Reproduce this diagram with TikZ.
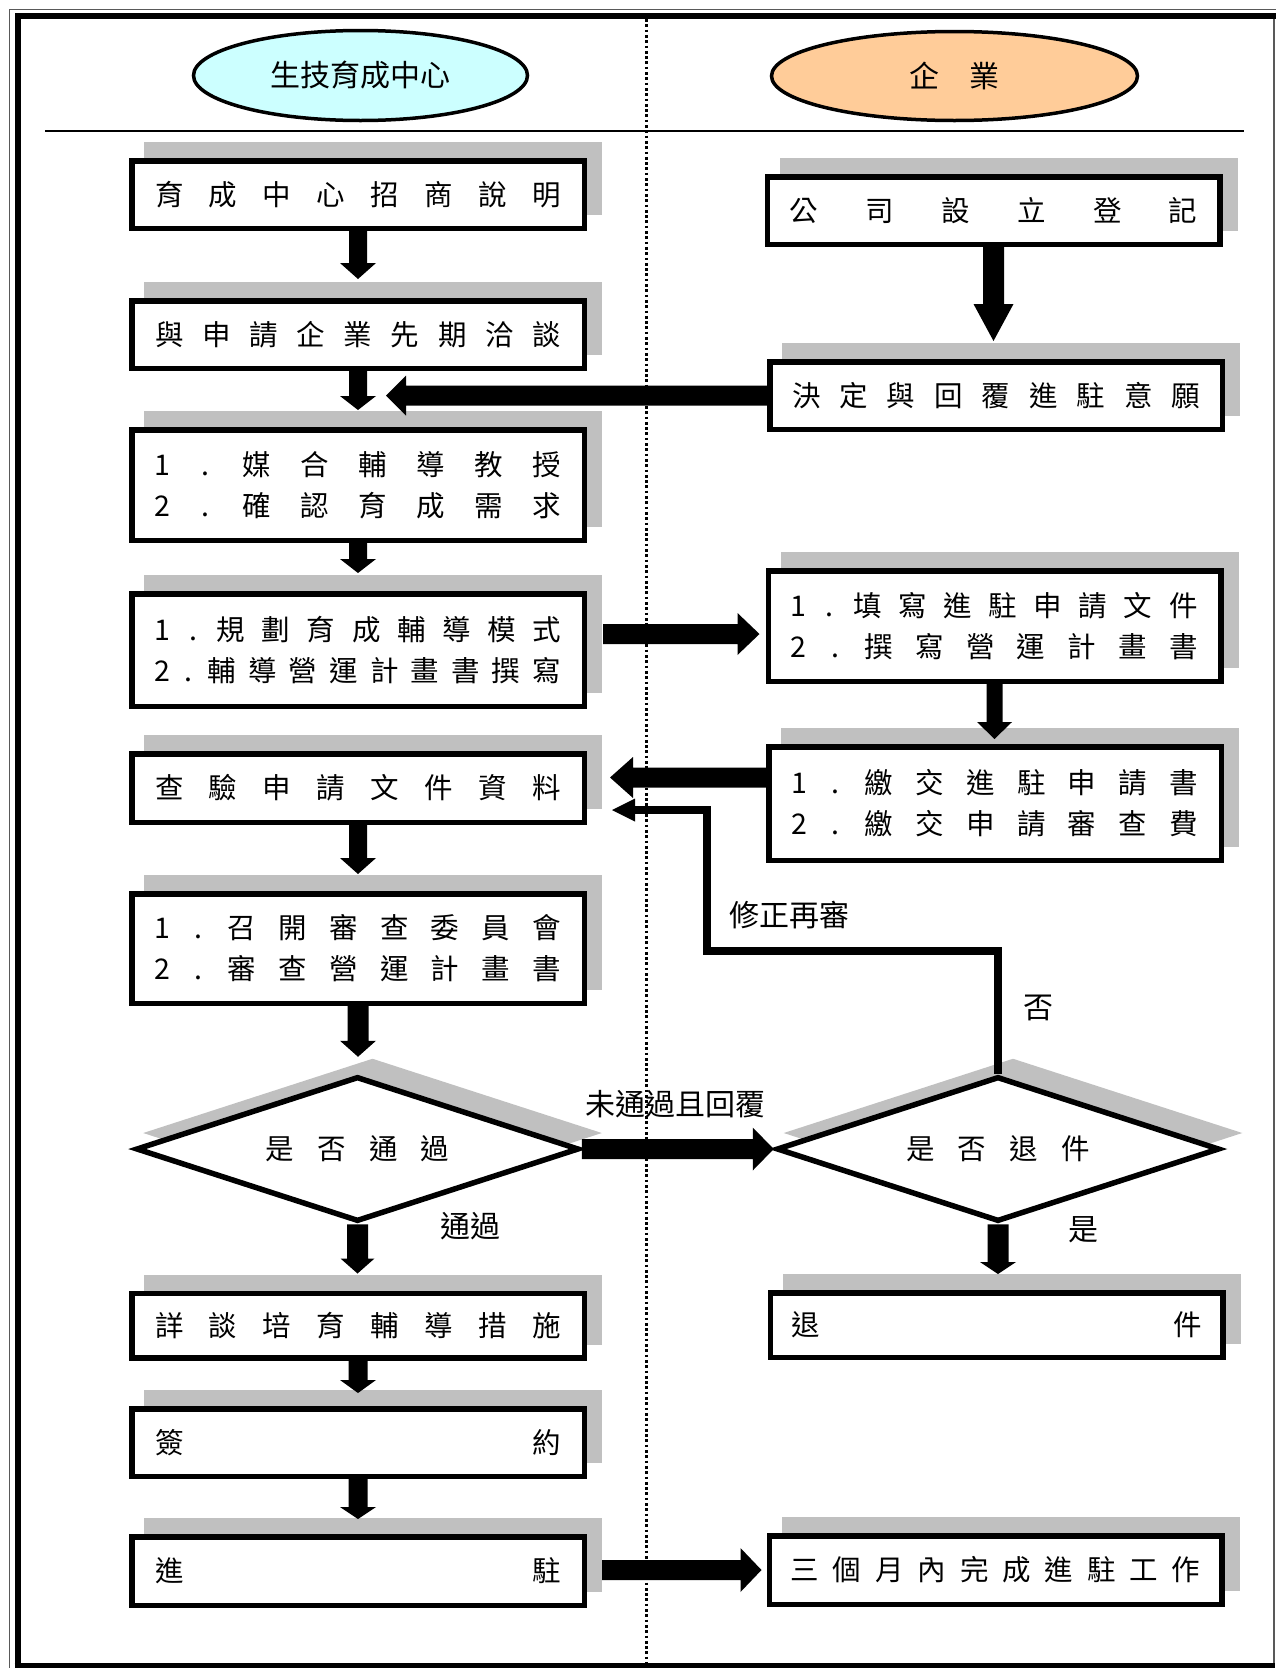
\documentclass[tikz,border=0pt]{standalone}
\usepackage{fontspec}
\setmainfont{Noto Sans CJK TC}
\usetikzlibrary{calc,shapes.geometric}
\definecolor{shadowc}{HTML}{C0C0C0}
\definecolor{cyanfill}{HTML}{CCFFFF}
\definecolor{peachfill}{HTML}{FFCC99}
\newcommand\boxfont{\fontsize{28.5pt}{41pt}\selectfont}
\newcommand\hdrfont{\fontsize{30pt}{36pt}\selectfont}
\newcommand\sprd[2]{\makebox[#1][s]{#2}}
\newcommand\hw[1]{\makebox[0.5em]{#1}}
% block arrow: start, tip, half shaft, half head, head length (numbers in pt)
\newcommand\barrow[5]{%
  \path #1 coordinate (baS) #2 coordinate (baE);
  \fill[black] let \p1=(baS), \p2=(baE), \n1={veclen(\x2-\x1,\y2-\y1)},
      \n2={(\x2-\x1)/\n1}, \n3={(\y2-\y1)/\n1} in
    ({\x1-\n3*#3},{\y1+\n2*#3})
    -- ({\x2-\n2*#5-\n3*#3},{\y2-\n3*#5+\n2*#3})
    -- ({\x2-\n2*#5-\n3*#4},{\y2-\n3*#5+\n2*#4})
    -- (\x2,\y2)
    -- ({\x2-\n2*#5+\n3*#4},{\y2-\n3*#5-\n2*#4})
    -- ({\x2-\n2*#5+\n3*#3},{\y2-\n3*#5-\n2*#3})
    -- ({\x1+\n3*#3},{\y1-\n2*#3}) -- cycle;
}
\tikzset{
  shadowed/.style={preaction={draw=shadowc, fill=shadowc, transform canvas={shift={(15pt,16pt)}}}},
  stepbox/.style={draw, line width=5.5pt, fill=white, inner sep=0pt, minimum width=452.5pt,
    font=\boxfont, align=center, shadowed},
  decbox/.style={diamond, aspect=3, draw, line width=5.5pt, fill=white, inner sep=0pt,
    minimum width=443pt, minimum height=145pt, font=\boxfont, shadowed},
  lane/.style={ellipse, draw, line width=3.5pt, inner sep=0pt, font=\hdrfont},
  lbl/.style={inner sep=0pt, font=\hdrfont},
}
\begin{document}
\begin{tikzpicture}[x=1pt,y=-1pt,line join=miter]
\useasboundingbox (0,0) rectangle (1276,1668);
% frame
\draw[line width=1.2pt, black!65] (9.5,1668) -- (9.5,9.5) -- (1276,9.5);
\draw[line width=1.2pt, black!65] (1274,18) -- (1274,1668);
\draw[line width=6pt] (17.5,1668) -- (17.5,16) -- (1276,16);
\draw[line width=6pt] (14.5,1665.5) -- (1275,1665.5);
% lane divider and header line
\draw[line width=2.7pt, dash pattern=on 2.7pt off 2.6pt] (646.5,19) -- (646.5,1663);
\draw[line width=2pt] (45,131) -- (1244,131);
% lane headers
\node[lane, fill=cyanfill, minimum width=334pt, minimum height=90pt] (h1) at (360.5,75.5) {生技育成中心};
\node[lane, fill=peachfill, minimum width=366pt, minimum height=89pt] (h2) at (954.5,76) {企　業};
% left column
\node[stepbox, minimum height=67.5pt] (b1) at (358,194.5) {\sprd{406pt}{育 成 中 心 招 商 說 明}};
\node[stepbox, minimum height=67.5pt] (b2) at (358,334.5) {\sprd{406pt}{與 申 請 企 業 先 期 洽 談}};
\node[stepbox, minimum height=110.5pt] (b3) at (358,485) {\sprd{406pt}{\hw{1} \hw{.} 媒 合 輔 導 教 授}\\\sprd{406pt}{\hw{2} \hw{.} 確 認 育 成 需 求}};
\node[stepbox, minimum height=112.5pt] (b4) at (358,650) {\sprd{406pt}{\hw{1} \hw{.} 規 劃 育 成 輔 導 模 式}\\\sprd{406pt}{\hw{2} \hw{.} 輔 導 營 運 計 畫 書 撰 寫}};
\node[stepbox, minimum height=68.5pt] (b5) at (358,788) {\sprd{406pt}{查 驗 申 請 文 件 資 料}};
\node[stepbox, minimum height=109.5pt] (b6) at (358,948.5) {\sprd{406pt}{\hw{1} \hw{.} 召 開 審 查 委 員 會}\\\sprd{406pt}{\hw{2} \hw{.} 審 查 營 運 計 畫 書}};
\node[decbox] (d1) at (357.5,1149) {\sprd{184pt}{是 否 通 過}};
\node[stepbox, minimum height=64.5pt] (b8) at (358,1325.5) {\sprd{406pt}{詳 談 培 育 輔 導 措 施}};
\node[stepbox, minimum height=67.5pt] (b9) at (358,1442.5) {\sprd{406pt}{簽 約}};
\node[stepbox, minimum height=68.5pt] (b10) at (358,1571) {\sprd{406pt}{進 駐}};
% right column
\node[stepbox, minimum height=67.5pt] (r1) at (993.5,210.5) {\sprd{408pt}{公 司 設 立 登 記}};
\node[stepbox, minimum height=67.5pt] (r2) at (996,395.5) {\sprd{408pt}{決 定 與 回 覆 進 駐 意 願}};
\node[stepbox, minimum height=110.5pt] (r3) at (994.5,626) {\sprd{406pt}{\hw{1} \hw{.} 填 寫 進 駐 申 請 文 件}\\\sprd{406pt}{\hw{2} \hw{.} 撰 寫 營 運 計 畫 書}};
\node[stepbox, minimum height=113.5pt] (r4) at (995,803.5) {\sprd{406pt}{\hw{1} \hw{.} 繳 交 進 駐 申 請 書}\\\sprd{406pt}{\hw{2} \hw{.} 繳 交 申 請 審 查 費}};
\node[decbox] (d2) at (998,1149) {\sprd{184pt}{是 否 退 件}};
\node[stepbox, minimum height=64.5pt] (r6) at (996.5,1325) {\sprd{410pt}{退 件}};
\node[stepbox, minimum height=68.5pt] (r7) at (995.5,1570) {\sprd{410pt}{三 個 月 內 完 成 進 駐 工 作}};
% vertical block arrows (tip kept straight below the start)
\barrow{(b1.south)}{($(b1.south |- b2.north)+(0,-19)$)}{9}{18}{16}
\barrow{(b2.south)}{($(b2.south |- b3.north)+(0,-17)$)}{9}{18}{14}
\barrow{(b3.south)}{($(b3.south |- b4.north)+(0,-18)$)}{9}{18}{14}
\barrow{(b5.south)}{($(b5.south |- b6.north)+(0,-17)$)}{9}{18}{16}
\barrow{(b6.south)}{($(b6.south |- d1.north)+(0,-17)$)}{10.5}{18}{16}
\barrow{(d1.south)}{($(d1.south |- b8.north)+(0,-17)$)}{10.5}{17}{15}
\barrow{(b8.south)}{($(b8.south |- b9.north)+(0,-13)$)}{9.5}{18}{13}
\barrow{(b9.south)}{($(b9.south |- b10.north)+(0,-15)$)}{9.5}{18}{12}
\barrow{(r1.south)}{($(r1.south |- r2.north)+(0,-18)$)}{10.5}{20}{37}
\barrow{(r3.south)}{($(r3.south |- r4.north)+(0,-5)$)}{8}{17.5}{17}
\barrow{(d2.south)}{($(d2.south |- r6.north)+(0,-16)$)}{10.5}{18}{12}
% horizontal block arrows
\coordinate (j1) at ($(b2.south)+(28,22)$);
\barrow{(r2.west)}{(j1 |- r2.west)}{10}{20}{20}
\coordinate (s13) at ($(b4.east)+(16,-16)$);
\coordinate (t13) at ($(r3.west)+(-6,0)$);
\barrow{(s13)}{(t13 |- s13)}{10}{21}{22}
\coordinate (s14) at ($(r4.west)+(0,-26)$);
\coordinate (t14) at ($(b5.east)+(23,0)$);
\barrow{(s14)}{(t14 |- s14)}{10}{20.5}{23}
\barrow{(d1.east)}{(d2.west)}{10}{21.5}{21}
\coordinate (s16) at ($(b10.east)+(15,-1)$);
\coordinate (t16) at ($(r7.west)+(-5,0)$);
\barrow{(s16)}{(t16 |- s16)}{10}{22}{21}
% return connector
\coordinate (k1) at (707,951);
\coordinate (k2) at ($(b5.east)+(25,22)$);
\draw[line width=7.5pt] (d2.north) |- (k1) -- (k1 |- k2) -- ($(k2)+(23,0)$);
\fill (k2) -- ($(k2)+(23,-11.5)$) -- ($(k2)+(23,11.5)$) -- cycle;
% labels
\node[lbl, anchor=west] (l1) at (729,915) {修正再審};
\node[lbl] (l2) at (1038,1008) {否};
\node[lbl] (l3) at (675,1104) {未通過且回覆};
\node[lbl] (l4) at (470,1226) {通過};
\node[lbl] (l5) at (1083,1230) {是};
\end{tikzpicture}
\end{document}
